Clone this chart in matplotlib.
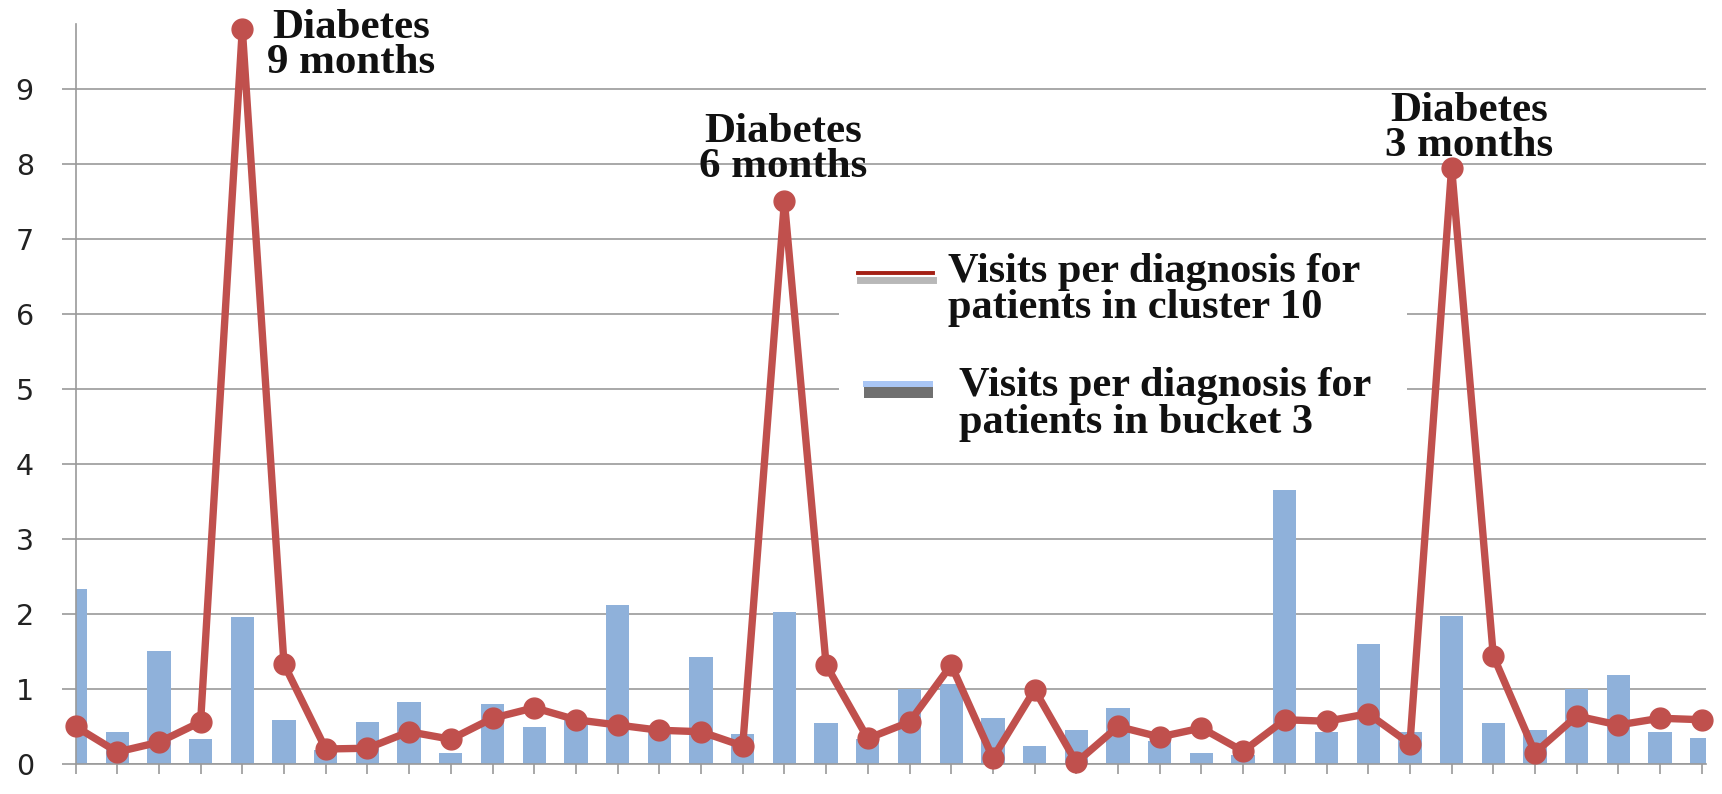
import matplotlib
matplotlib.use("Agg")
import matplotlib.pyplot as plt
from matplotlib.patches import Rectangle
from matplotlib.lines import Line2D

# ---- data -----------------------------------------------------------------
cluster10 = [0.50, 0.16, 0.29, 0.56, 9.80, 1.33, 0.20, 0.21, 0.43, 0.33,
             0.61, 0.75, 0.59, 0.52, 0.45, 0.43, 0.24, 7.50, 1.32, 0.34,
             0.56, 1.32, 0.08, 0.99, 0.02, 0.50, 0.36, 0.48, 0.17, 0.59,
             0.57, 0.67, 0.27, 7.95, 1.44, 0.15, 0.64, 0.52, 0.61, 0.59]
bucket3 = [2.33, 0.43, 1.50, 0.33, 1.96, 0.59, 0.18, 0.56, 0.82, 0.15,
           0.80, 0.49, 0.60, 2.12, 0.44, 1.42, 0.40, 2.02, 0.55, 0.33,
           1.00, 1.07, 0.61, 0.24, 0.45, 0.74, 0.30, 0.14, 0.12, 3.65,
           0.43, 1.60, 0.43, 1.97, 0.55, 0.45, 1.00, 1.18, 0.43, 0.34]
yticks = list(range(0, 10))
peaks = [("Diabetes", "9 months"), ("Diabetes", "6 months"), ("Diabetes", "3 months")]
legend_labels = [("Visits per diagnosis for", "patients in cluster 10"),
                 ("Visits per diagnosis for", "patients in bucket 3")]

RED, BLUE, GRID = "#c0504d", "#8fb1da", "#9a9a9a"
SERIF = ["Liberation Serif", "DejaVu Serif"]
W, H = 1722, 794

fig = plt.figure(figsize=(W / 100, H / 100), dpi=100)
ax = fig.add_axes([75.5 / W, 30 / H, (1706 - 75.5) / W, (764 - 23.5) / H])
x = list(range(len(cluster10)))

ax.bar(x, bucket3, width=0.56, color=BLUE, zorder=2)
ax.plot(x, cluster10, color=RED, lw=5.3, marker="o", ms=15, zorder=3, clip_on=False,
        solid_joinstyle="round")

ax.set_xlim(0, 39.1)
ax.set_ylim(0, 9.87)
ax.set_yticks(yticks)
ax.set_xticks(x)
ax.set_xticklabels([])
ax.grid(axis="y", color=GRID, lw=1.2)
ax.set_axisbelow(True)
for s in ("top", "right"):
    ax.spines[s].set_visible(False)
for s in ("left", "bottom"):
    ax.spines[s].set_color(GRID)
    ax.spines[s].set_linewidth(1.2)
ax.tick_params(axis="y", length=10, width=1.2, color=GRID, pad=20, labelsize=20.5, labelcolor="#222")
ax.tick_params(axis="x", length=7, width=1.2, color=GRID)

# peak annotations: (x centre, baseline of line 1, baseline of line 2) in data units
ann_pos = [(6.60, 9.68, 9.21), (16.97, 8.29, 7.82), (33.43, 8.57, 8.10)]
for (l1, l2), (ax_x, y1, y2) in zip(peaks, ann_pos):
    for txt, yy in ((l1, y1), (l2, y2)):
        ax.text(ax_x, yy, txt, ha="center", va="baseline", fontsize=31,
                fontweight="bold", family=SERIF, color="#111", zorder=6)


# ---- hand-drawn legend (pixel coords from top-left) -------------------------
def fx(px):
    return px / W


def fy(py):
    return 1 - py / H


fig.patches.append(Rectangle((fx(839), fy(458)), fx(1407) - fx(839), fy(240) - fy(458),
                             transform=fig.transFigure, fc="white", ec="none", zorder=5))
# red handle + shadow
fig.lines.append(Line2D([fx(860), fx(933)], [fy(280), fy(280)], transform=fig.transFigure,
                        color="#8a8a8a", lw=5, alpha=0.6, zorder=6))
fig.lines.append(Line2D([fx(858), fx(933)], [fy(273), fy(273)], transform=fig.transFigure,
                        color="#a31f14", lw=2.8, zorder=7))
# blue handle + shadow
fig.patches.append(Rectangle((fx(864), fy(398)), fx(933) - fx(864), fy(387) - fy(398),
                             transform=fig.transFigure, fc="#707070", ec="none", zorder=6))
fig.patches.append(Rectangle((fx(863), fy(387)), fx(933) - fx(863), fy(381) - fy(387),
                             transform=fig.transFigure, fc="#a9c6f5", ec="none", zorder=7))
leg_pos = [(948, 282, 318), (959, 396, 433)]
for (l1, l2), (lx, b1, b2) in zip(legend_labels, leg_pos):
    for txt, b in ((l1, b1), (l2, b2)):
        fig.text(fx(lx), fy(b), txt, ha="left", va="baseline", fontsize=30.5,
                 fontweight="bold", family=SERIF, color="#111", zorder=8)

fig.savefig("out.png", dpi=100)
